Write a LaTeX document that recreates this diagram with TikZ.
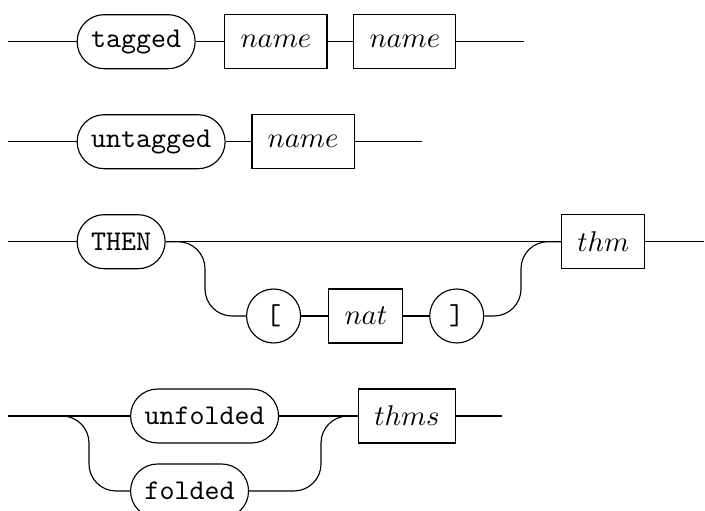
\documentclass[tikz,border=0pt]{standalone}
\usepackage{tikz}
\usetikzlibrary{positioning}

\begin{document}
\begin{tikzpicture}[
x=0.35pt,y=-0.35pt,
keyword/.style={
rectangle,draw,rounded corners=9.45pt,
minimum height=18.9pt,
inner xsep=4.9pt,
font=\ttfamily
},
symbol/.style={circle,draw,minimum size=18.9pt,inner sep=0pt,font=\ttfamily},
category/.style={rectangle,draw,minimum height=18.9pt,inner xsep=5.5pt},
rail/.style={rounded corners=9.45pt}
]
\useasboundingbox (0,0) rectangle (705,511);

% tagged
\coordinate (s1) at (8,41.7);
\node[keyword,right=24pt of s1] (tagged) {tagged};
\node[category,right=10pt of tagged] (tname) {$name$};
\node[category,right=9pt of tname] (tname2) {$name$};
\coordinate[right=23.5pt of tname2] (e1);

\draw (s1) -- (tagged.west);
\draw (tagged.east) -- (tname.west);
\draw (tname.east) -- (tname2.west);
\draw (tname2.east) -- (e1);

% untagged
\coordinate (s2) at (8,141.7);
\node[keyword,right=24pt of s2] (untagged) {untagged};
\node[category,right=9pt of untagged] (uname) {$name$};
\coordinate[right=23.5pt of uname] (e2);

\draw (s2) -- (untagged.west);
\draw (untagged.east) -- (uname.west);
\draw (uname.east) -- (e2);

% THEN
\coordinate (s3) at (8,241.7);
\node[keyword,right=24pt of s3] (then) {THEN};
\node[symbol,anchor=west] (lbr) at (246,316) {[};
\node[category,right=9.5pt of lbr] (nat) {$nat$};
\node[symbol,right=9pt of nat] (rbr) {]};
\node[category,anchor=west] (thm) at (561,241.7) {$thm$};
\coordinate[right=20.5pt of thm] (e3);
\coordinate (b3l) at (205,241.7);
\coordinate (b3r) at (521,241.7);

\draw (s3) -- (then.west);
\draw (then.east) -- (thm.west);
\draw[rail] (then.east) -- (b3l) |- (lbr.west);
\draw (lbr.east) -- (nat.west);
\draw (nat.east) -- (rbr.west);
\draw[rail] (rbr.east) -| (b3r) -- (thm.west);
\draw (thm.east) -- (e3);

% unfolded / folded
\coordinate (s4) at (8,416);
\node[keyword,anchor=west] (unfolded) at (130,416) {unfolded};
\node[keyword,anchor=west] (folded) at (130,491) {folded};
\node[category,right=27.6pt of unfolded] (thms) {$thms$};
\coordinate[right=16pt of thms] (e4);
\coordinate (b4l) at (89,416);
\coordinate (b4r) at (321,416);

\draw (s4) -- (unfolded.west);
\draw (unfolded.east) -- (thms.west);
\draw[rail] (s4) -- (b4l) |- (folded.west);
\draw[rail] (folded.east) -| (b4r) -- (thms.west);
\draw (thms.east) -- (e4);

\end{tikzpicture}
\end{document}
